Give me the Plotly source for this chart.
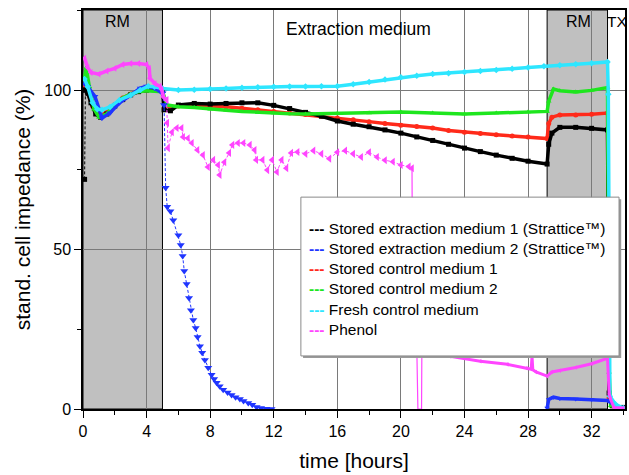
import plotly.graph_objects as go

# ---------------- data ----------------
# Stored extraction medium 1 (black): first reading, then the main trace
black_start_t = [0.1, 0.15]
black_start_v = [72, 100]
black_t = [0.15, 0.3, 0.5, 0.8, 1.1, 1.5, 2.0, 2.5, 3.0, 3.5, 4.0, 4.5, 5.0, 5.1, 5.5,
           6, 7, 8, 9, 10, 11, 12, 13, 14, 15, 16, 17, 18, 19, 20, 21, 22, 23, 24, 25, 26, 27,
           28, 29.2, 29.3, 29.5, 30, 31, 32, 33.0, 33.1, 33.3, 34]
black_v = [100, 99, 96, 92.5, 91.5, 92.5, 95, 97, 98.5, 99.5, 100, 100.3, 100, 93.8, 93.5,
           95.3, 95.8, 95.6, 95.8, 96, 96, 95.2, 94.2, 93, 91.8, 90.3, 89.3, 88.5, 87.5, 86.5,
           85.3, 84.2, 83, 81.8, 80.7, 79.6, 78.6, 77.7, 76.8, 83, 86.5, 88.3, 88.3, 88, 87.5,
           5, 1, 0.5]

# Stored extraction medium 2 (blue): before the drop, the drop, second RM phase
blue_a_t = [0.1, 0.3, 0.75, 1.2, 1.7, 2.3, 3.0, 3.6, 4.0, 4.5, 5.0]
blue_a_v = [102, 101, 98, 91.2, 92.8, 96, 98.4, 100.6, 101.2, 100.6, 99]
blue_drop_t = [5.0, 5.1, 5.2, 5.3, 5.5, 5.68, 6.0, 6.15, 6.27, 6.37, 6.52, 6.67, 6.79, 6.94,
               7.09, 7.21, 7.36, 7.5, 7.67, 7.88, 8.09, 8.25, 8.41, 8.6, 8.82, 9.1, 9.35, 9.6,
               9.87, 10.1, 10.4, 10.65, 10.92, 11.2, 11.55, 11.86]
blue_drop_v = [99, 95.3, 69.4, 63.4, 62, 59.2, 54.5, 51.4, 48, 43.3, 39.2, 34.8, 31, 27.9,
               25.4, 22.6, 19.7, 17.6, 15.4, 12.9, 10.7, 9.4, 8.2, 7.1, 6, 5.2, 4.4, 3.7,
               3.1, 2.5, 1.9, 1.3, 0.6, 0.3, 0.1, 0]
blue_b_t = [29.2, 29.3, 29.6, 30, 31, 32, 33.0, 33.1, 33.5, 34]
blue_b_v = [0.3, 3, 3.7, 3.3, 3.1, 3, 2.7, 2.4, 1, 0.3]

# Stored control medium 1 (red)
red_t = [0.1, 0.3, 0.6, 1.0, 1.5, 2, 2.5, 3, 3.5, 4, 4.5, 5.0, 5.2, 5.5, 6, 7, 8, 9, 10, 11,
         12, 13, 14, 15, 16, 17, 18, 19, 20, 21, 22, 23, 24, 25, 26, 27, 28, 29.2, 29.3, 29.5,
         30, 31, 32, 33, 33.1, 33.3, 34]
red_v = [101, 99, 95, 92, 93, 95.5, 97.5, 98.8, 99.7, 100, 100.2, 99.8, 95, 94.8, 95, 95.2,
         95, 94.8, 94.3, 93.8, 93.3, 92.8, 92.3, 91.8, 91.2, 90.7, 90.1, 89.5, 89, 88.6, 88.1,
         87.3, 86.8, 86.4, 86, 85.6, 85.3, 84.8, 89.5, 91.5, 92.2, 92.2, 92.4, 92.8, 3.5, 1, 0.3]

# Stored control medium 2 (green)
green_t = [0.1, 0.2, 0.4, 0.7, 1.0, 1.5, 2, 2.5, 3, 3.5, 4, 4.5, 5.0, 5.3, 6, 7, 8, 9, 10,
           11, 12, 13, 14, 16, 18, 20, 22, 24, 26, 28, 29.2, 29.3, 29.6, 30, 31, 32, 33,
           33.1, 33.2, 34]
green_v = [104, 107, 101, 94, 91.5, 92.5, 95.5, 97.5, 98.8, 99.5, 99.8, 99.7, 99.5, 95.3,
           94.8, 94.5, 94, 93.7, 93.3, 93, 92.8, 92.6, 92.5, 92.7, 92.8, 93.1, 92.8, 92.5,
           92.8, 93.1, 93.3, 96.5, 100.3, 99.8, 99.4, 99.9, 100.8, 11.5, 1, 0.3]

# Fresh control medium (cyan)
cyan_t = [0.1, 0.3, 0.6, 0.9, 1.2, 1.7, 2.3, 3, 3.6, 4.1, 4.5, 5.0, 6, 7, 8, 9, 10, 11, 12,
          13, 14, 15, 16, 17, 18, 19, 20, 21, 22, 23, 24, 25, 26, 27, 28, 29, 30, 31, 32,
          33.0, 33.05, 33.15, 33.5, 34]
cyan_v = [103.5, 101, 96, 94, 93.8, 94.7, 96.9, 98.4, 100, 101.2, 101, 100.5, 100, 100.1,
          100.3, 100.5, 100.7, 100.9, 101, 101.1, 101.1, 101.2, 101.2, 101.8, 102.5, 103.3,
          104, 104.5, 105, 105.3, 105.7, 106, 106.3, 106.7, 107.1, 107.5, 107.8, 108.1,
          108.4, 108.8, 98.7, 4, 1.5, 0.3]

# Phenol (magenta): first RM phase, scattered part, drop with spikes, later part
phenol_a_t = [0.1, 0.3, 0.5, 1.0, 1.5, 2.0, 2.5, 3.0, 3.5, 4.0, 4.17, 4.21, 4.53, 4.84, 4.95,
              5.05, 5.26]
phenol_a_v = [110, 107, 105.5, 105, 106, 106.8, 108, 108.3, 108.3, 108, 106.8, 103.7, 102,
              101.2, 100.2, 97.9, 96.9]
phenol_s_t = [5.26, 5.3, 5.35, 5.6, 5.9, 6.2, 6.3, 6.6, 6.85, 7.2, 7.55, 7.86, 8.2, 8.5, 8.6,
              8.9, 9.2, 9.4, 9.75, 10.1, 10.5, 10.8, 10.9, 11.3, 11.6, 11.9, 12.2, 12.5, 12.8,
              13.1, 13.5, 14.0, 14.5, 15.0, 15.5, 16.0, 16.5, 17.0, 17.5, 18.0, 18.5, 19.0,
              19.5, 20.0, 20.5, 20.7]
phenol_s_v = [96.9, 89.7, 81.8, 86.8, 88.1, 88.1, 85.3, 84.9, 83.4, 81.2, 79.6, 75.9, 78.1,
              76.5, 73.4, 77.4, 80.3, 82.8, 83.4, 83.4, 82.8, 81.2, 78.1, 78.1, 74.9, 78.1,
              74.3, 78.1, 75.5, 80.3, 80.6, 80, 81, 80, 78.5, 80.5, 81, 80, 79, 80.5, 79, 78,
              77.5, 76.5, 76, 75.5]
phenol_gap_t = [20.7, 20.75, 21.0, 21.07, 21.3, 21.32, 22]
phenol_gap_v = [75.5, 20, 19.5, 0, 0, 19.3, 18]
phenol_b_t = [22, 23.1, 25, 26.7, 27.9, 28.2, 28.25, 28.3, 28.5, 29.2, 29.5, 30, 31, 32, 33.0,
              33.1, 33.2, 33.4, 34]
phenol_b_v = [18, 16.5, 15, 14, 12.8, 12.5, 16.5, 12.3, 11.6, 10.3, 11.6, 12, 13, 14.2, 15.9,
              4.7, 3, 0.5, 0.3]

# phases and labels
rm_phases = [(0, 5.0), (29.2, 33.0)]
phase_labels = ["RM", "Extraction medium", "RM", "TX"]
phase_label_t = [2.14, 17.36, 31.2, 33.62]
phase_label_y = [121.6, 119.1, 121.6, 121.6]
phase_label_size = [16, 17.5, 16, 15.5]

legend_names = ["Stored extraction medium 1 (Strattice™)",
                "Stored extraction medium 2 (Strattice™)",
                "Stored control medium 1",
                "Stored control medium 2",
                "Fresh control medium",
                "Phenol"]

x_ticks = [0, 4, 8, 12, 16, 20, 24, 28, 32]
y_ticks = [0, 50, 100]

# ---------------- styling ----------------
C_BLACK = "#000000"
C_BLUE = "#1f35ff"
C_RED = "#ff2a1a"
C_GREEN = "#1ee61e"
C_CYAN = "#2ee6ff"
C_MAG = "#ff45ff"
legend_colors = [C_BLACK, C_BLUE, C_RED, C_GREEN, C_CYAN, C_MAG]
FONT = "Arial, Liberation Sans, Helvetica, sans-serif"

fig = go.Figure()


def band(t, v, color, symbol, msize=5, width=3.5):
    fig.add_trace(go.Scatter(x=t, y=v, mode="lines+markers", showlegend=False,
                             line=dict(color=color, width=width),
                             marker=dict(color=color, symbol=symbol, size=msize),
                             hoverinfo="skip"))


def sparse(t, v, color, symbol, msize=7):
    fig.add_trace(go.Scatter(x=t, y=v, mode="lines+markers", showlegend=False,
                             line=dict(color=color, width=1, dash="3px,2px"),
                             marker=dict(color=color, symbol=symbol, size=msize),
                             hoverinfo="skip"))


def thin(t, v, color):
    fig.add_trace(go.Scatter(x=t, y=v, mode="lines", showlegend=False,
                             line=dict(color=color, width=1.2), hoverinfo="skip"))


band(red_t, red_v, C_RED, "circle")
sparse(black_start_t, black_start_v, C_BLACK, "square", msize=5)
band(black_t, black_v, C_BLACK, "square")
band(green_t, green_v, C_GREEN, "triangle-up")
band(blue_a_t, blue_a_v, C_BLUE, "triangle-down", msize=6)
sparse(blue_drop_t, blue_drop_v, C_BLUE, "triangle-down")
band(blue_b_t, blue_b_v, C_BLUE, "triangle-down")
band(cyan_t, cyan_v, C_CYAN, "diamond")
band(phenol_a_t, phenol_a_v, C_MAG, "triangle-left", msize=6)
sparse(phenol_s_t, phenol_s_v, C_MAG, "triangle-left")
thin(phenol_gap_t, phenol_gap_v, C_MAG)
band(phenol_b_t, phenol_b_v, C_MAG, "triangle-left", msize=4, width=3)

shapes = []
for (a, b) in rm_phases:
    shapes.append(dict(type="rect", xref="x", yref="y", x0=a, x1=b, y0=0, y1=125.1,
                       fillcolor="#c0c0c0", line=dict(color="black", width=1), layer="below"))

# legend box (with a small shadow), drawn above the data
lx0, lx1, ly0, ly1 = 0.402, 0.989, 0.133, 0.531
shapes.append(dict(type="rect", xref="paper", yref="paper", x0=lx0 + 0.004, x1=lx1 + 0.004,
                   y0=ly0 - 0.005, y1=ly1 - 0.005, fillcolor="#9a9a9a",
                   line=dict(width=0), layer="above"))
shapes.append(dict(type="rect", xref="paper", yref="paper", x0=lx0, x1=lx1, y0=ly0, y1=ly1,
                   fillcolor="white", line=dict(color="#8a8a8a", width=1), layer="above"))

annotations = []
for txt, t, y, s in zip(phase_labels, phase_label_t, phase_label_y, phase_label_size):
    annotations.append(dict(x=t, y=y, xref="x", yref="y", text=txt, showarrow=False,
                            font=dict(family=FONT, size=s, color="black"),
                            xanchor="center", yanchor="middle"))

# legend text: coloured dashes followed by the series name
legend_lines = [f'<span style="color:{c}"><b>---</b></span> {n}'
                for n, c in zip(legend_names, legend_colors)]
annotations.append(dict(x=0.4133, y=0.3246, xref="paper", yref="paper",
                        text="<br>".join(legend_lines), showarrow=False, align="left",
                        xanchor="left", yanchor="middle",
                        font=dict(family=FONT, size=15.5, color="black")))

fig.update_layout(
    width=629, height=475,
    margin=dict(l=83, r=4, t=10, b=66, autoexpand=False),
    paper_bgcolor="white", plot_bgcolor="white",
    font=dict(family=FONT, color="black"),
    shapes=shapes, annotations=annotations,
    showlegend=False,
)

fig.update_xaxes(range=[0, 34.1], tickmode="array", tickvals=x_ticks,
                 ticktext=[str(v) for v in x_ticks], automargin=False,
                 showgrid=True, gridcolor="#7a7a7a", gridwidth=1,
                 showline=True, linecolor="black", linewidth=1.5, mirror=True,
                 ticks="outside", ticklen=7, tickcolor="black", tickwidth=1.2,
                 minor=dict(dtick=2, tick0=0, ticks="outside", ticklen=4,
                            tickcolor="black", showgrid=False),
                 tickfont=dict(family=FONT, size=16, color="black"),
                 title=dict(text="time [hours]", font=dict(family=FONT, size=21, color="black"),
                            standoff=14),
                 zeroline=False)
fig.update_yaxes(range=[0, 125.1], tickmode="array", tickvals=y_ticks,
                 ticktext=[str(v) for v in y_ticks], automargin=False,
                 showgrid=True, gridcolor="#7a7a7a", gridwidth=1,
                 showline=True, linecolor="black", linewidth=1.5, mirror=True,
                 ticks="outside", ticklen=7, tickcolor="black", tickwidth=1.2,
                 minor=dict(dtick=25, tick0=0, ticks="outside", ticklen=4,
                            tickcolor="black", showgrid=False),
                 tickfont=dict(family=FONT, size=16, color="black"),
                 title=dict(text="stand. cell impedance (%)",
                            font=dict(family=FONT, size=21, color="black"), standoff=8),
                 zeroline=False)

fig.write_html("out.html", config={"displayModeBar": False},
               post_script="document.body.style.margin='0';document.body.style.overflow='hidden';")
